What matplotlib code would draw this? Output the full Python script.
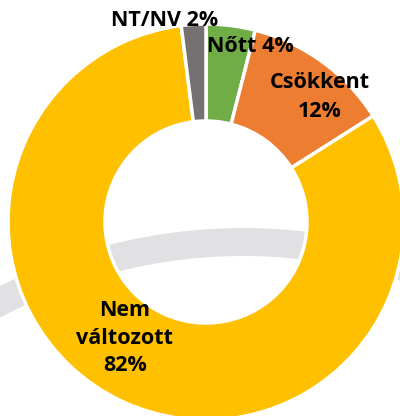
import matplotlib.pyplot as plt
from matplotlib.patches import Wedge

# data, in Excel order (first slice starts at 12 o'clock, clockwise)
categories = ["Nőtt", "Csökkent", "Nem változott", "NT/NV"]
shares = [4, 12, 82, 2]
colors = ["#70AD47", "#ED7D31", "#FFC000", "#767171"]
label_texts = ["Nőtt 4%", "Csökkent\n12%", "Nem\nváltozott\n82%", "NT/NV 2%"]

W, H = 400, 416
fig = plt.figure(figsize=(W / 100, H / 100), dpi=100)
ax = fig.add_axes([0, 0, 1, 1])

# pale grey swoosh behind the donut
ax.add_patch(Wedge((243, H - 765), 537, 60, 125, width=28,
                   facecolor="#E1E1E3", edgecolor="none", zorder=0))

cx, cy, r_out, r_in = 206, H - 222, 198, 101
ax.pie(shares, colors=colors, startangle=90, counterclock=False,
       center=(cx, cy), radius=r_out, frame=True,
       wedgeprops=dict(width=r_out - r_in, edgecolor="white", linewidth=2.5))
ax.set_xlim(0, W)
ax.set_ylim(0, H)
ax.set_aspect("equal")
ax.axis("off")

# label positions in pixels (x, y from top) and line spacing
label_pos = [(250, 46), (320, 97), (125, 338), (165, 20)]
spacing = [1.0, 1.55, 1.4, 1.0]
for txt, (x, y), ls in zip(label_texts, label_pos, spacing):
    ax.text(x, H - y, txt, ha="center", va="center", fontsize=15.5,
            fontweight="bold", family="Open Sans", linespacing=ls,
            color="black", zorder=5)

fig.savefig("out.png", dpi=100)
